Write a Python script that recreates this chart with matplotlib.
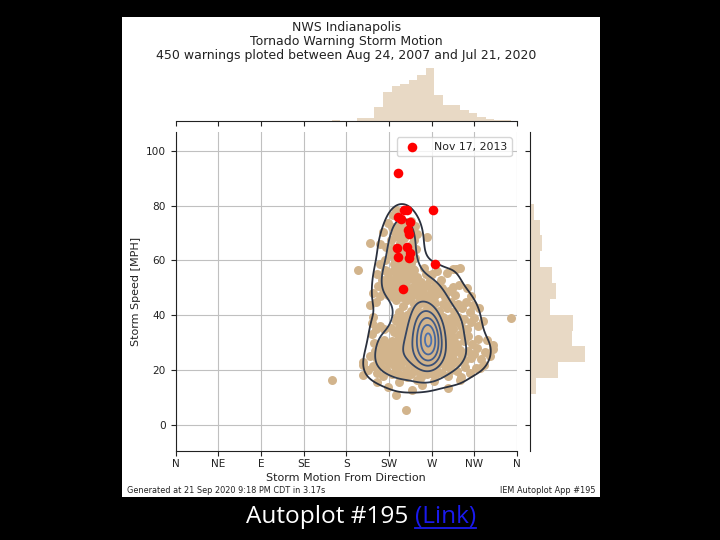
import numpy as np
import matplotlib
matplotlib.use("Agg")
import matplotlib.pyplot as plt
from matplotlib.patches import Rectangle
from matplotlib.lines import Line2D
import seaborn as sns

# ---------------- data ----------------
title_lines = ["NWS Indianapolis", "Tornado Warning Storm Motion",
               "450 warnings ploted between Aug 24, 2007 and Jul 21, 2020"]
dir_ticks = [0, 45, 90, 135, 180, 225, 270, 315, 360]
dir_labels = ["N", "NE", "E", "SE", "S", "SW", "W", "NW", "N"]
speed_ticks = [0, 20, 40, 60, 80, 100]

# tan points: storm motion direction (deg) and speed (mph), by speed band
tan_deg = (
    [232, 229]
    + [219, 228, 236, 240, 250, 252, 243, 238, 231, 255, 224, 248, 233]
    + [205, 265, 222, 227, 231, 237, 241, 249, 253, 251, 243, 235, 246, 226, 229, 239, 216]
    + [221, 227, 230, 240, 243, 252, 248, 238, 236, 231, 216]
    + [192, 212, 218, 221, 224, 227, 229, 232, 235, 237, 240, 243, 245, 248, 251, 253, 270, 280,
       276, 238, 242, 246, 233, 241, 228, 222, 255, 259, 264, 262, 268, 292, 296, 300, 250, 286]
    + [208, 213, 216, 219, 222, 224, 227, 229, 231, 233, 235, 237, 239, 242, 244, 246, 248, 250,
       252, 254, 257, 259, 261, 264, 266, 269, 272, 275, 278, 281, 284, 288, 292, 295, 299, 274,
       307, 311, 226, 241, 256]
    + [205, 211, 252, 257, 266, 232, 236, 240, 244, 248, 251, 255, 258, 262, 265, 268, 271, 274,
       278, 282, 286, 290, 294, 298, 302, 306, 314, 310, 320, 270, 253, 263]
    + [207, 208, 211, 258, 216, 262, 220, 264, 267, 227, 269, 271, 233, 235, 237, 239, 241, 243,
       245, 247, 249, 251, 253, 255, 256, 258, 259, 261, 262, 263, 264, 265, 266, 267, 268, 269,
       270, 270, 271, 272, 273, 275, 276, 278, 280, 282, 284, 286, 288, 290, 293, 295, 298, 301,
       304, 307, 311, 315, 319, 324, 354, 260, 266, 250, 244, 238, 232, 268, 266, 263]
    + [207, 209, 262, 215, 266, 220, 223, 269, 228, 230, 233, 235, 238, 240, 242, 244, 246, 248,
       250, 252, 254, 255, 257, 258, 259, 260, 261, 262, 263, 263, 264, 265, 265, 266, 266, 267,
       267, 268, 268, 268, 269, 269, 270, 270, 270, 271, 271, 272, 272, 273, 275, 276, 278, 280,
       283, 285, 288, 291, 294, 297, 300, 304, 308, 313, 319, 328, 335, 232]
    + [198, 205, 210, 212, 215, 217, 219, 221, 223, 225, 227, 229, 231, 233, 235, 237, 239, 240,
       242, 244, 245, 247, 249, 250, 252, 253, 255, 256, 258, 259, 260, 261, 262, 263, 264, 264,
       265, 265, 266, 266, 267, 267, 268, 268, 269, 269, 270, 270, 271, 271, 272, 272, 273, 274,
       275, 276, 278, 279, 281, 283, 285, 287, 289, 291, 293, 295, 298, 300, 302, 305, 308, 311,
       315, 318, 322, 326, 331, 335, 246, 236, 226, 257, 262, 254, 243, 274, 280, 231, 220]
    + [198, 198, 203, 208, 212, 216, 219, 222, 225, 228, 231, 234, 237, 240, 243, 246, 248, 251,
       254, 256, 259, 261, 263, 265, 267, 269, 271, 273, 275, 278, 281, 284, 287, 290, 293, 297,
       301, 305, 310, 317, 321, 325, 244, 257, 235]
    + [164.5, 212, 224, 236, 249, 255, 260, 272, 287, 300]
    + [232, 243]
)
tan_mph = (
    [78.4, 76.5]
    + [70.5, 72, 73, 71, 70, 72.5, 74, 69.5, 70, 69.5, 73.5, 74.5, 71.5]
    + [66.5, 68.4, 65, 67.5, 64, 66.5, 68, 66, 64, 67.5, 65, 68.5, 63.5, 63.8, 64.5, 64, 66]
    + [60, 62, 58.5, 60.5, 58, 61, 59, 62, 57.8, 60, 58.5]
    + [56.5, 55, 53, 56.5, 54, 52.5, 56, 54, 52.5, 56, 54, 52, 55.5, 53.5, 56.5, 52.5, 55, 53,
       56, 54, 52.5, 55, 53.5, 55, 52.5, 56, 54, 52, 55, 57.2, 53, 57, 57, 57.2, 56.8, 55.5]
    + [48, 50.5, 47, 49.5, 51, 47.5, 50, 46.5, 48.5, 51, 47, 49.5, 46.5, 51, 48, 50, 46.5, 49,
       51.5, 47.5, 50, 46.5, 48.5, 51, 47, 49.5, 46.5, 51, 48, 50, 46.5, 49, 50.4, 47.5, 51, 48.5,
       50, 47, 51.5, 47, 48.8]
    + [43.7, 45, 41.5, 44, 42, 45.5, 41, 43.5, 45.5, 41.5, 44, 42, 45.5, 41, 43.5, 45.5, 42, 44.5,
       41.5, 44, 42.5, 45, 41.5, 44, 42.5, 45, 43.7, 41, 42.5, 40.8, 40.6, 45.8]
    + [37, 39.5, 35, 38, 36, 39.5, 35, 37.5, 39.5, 35.5, 38, 36, 39.5, 34.8, 37.5, 39.5, 36, 38.5,
       35, 37, 39.5, 35.5, 38, 36.5, 39.5, 35, 37.5, 39.5, 36, 34.6, 38, 36.5, 39.5, 35.5, 37.5, 34.8,
       39, 36, 37.5, 35, 38.5, 36, 39.5, 35, 37.5, 39.5, 35.5, 38, 36, 39, 35, 37.5, 39.5, 36,
       38.5, 35, 37.5, 39, 36, 38, 38.9, 34.7, 34.6, 38.8, 40, 35.2, 37.8, 36.2, 34.8, 40]
    + [33, 30, 32, 29.5, 33.5, 31, 29, 32.5, 30.5, 33.8, 29.5, 31.5, 33.5, 30, 32, 29, 33.5, 31,
       29.5, 33, 30.5, 32.5, 29, 31.5, 33.8, 30, 32, 29, 31, 33.5, 30, 32.5, 29, 31.5, 33.8, 30,
       32, 29.5, 31, 33, 30.5, 32.5, 29, 31.5, 33.5, 30, 32, 29.5, 33, 31, 29.5, 32.5, 30, 33.5,
       29, 31.5, 33.5, 30, 32, 29.5, 33, 30.5, 32.5, 29.5, 31.5, 31, 29, 34]
    + [22.9, 25, 27, 24, 26.5, 23.5, 28, 25.5, 23.2, 27, 24.5, 28.2, 26, 23.5, 27.5, 25, 23, 28,
       26, 24, 27.5, 25.5, 23.3, 28.2, 26, 24, 27.5, 25, 23, 28, 26, 24, 27.5, 25.5, 23.5, 28,
       26.5, 24.5, 27.5, 23, 25.5, 28, 24, 26.5, 23, 27, 25, 28.2, 23.5, 26, 27.5, 24.5, 26, 23,
       27.5, 25, 28, 23.5, 26, 24, 27.5, 23.2, 25.5, 28, 24, 26.5, 23, 27.5, 25, 23.5, 27, 24.5,
       26, 28, 24, 26.5, 25, 27.6, 22.9, 24, 26, 26.8, 23, 28.5, 28.5, 28.5, 24.2, 24, 28.4]
    + [18.2, 22, 20, 21.5, 19, 22, 18, 20.5, 22.5, 18.5, 21, 19, 22, 17.8, 20, 22.5, 18.5, 21,
       19.5, 22.2, 17.5, 20.5, 22.5, 18.5, 21, 19, 22.5, 18, 20.5, 22.5, 19, 21.5, 18, 20, 22.5,
       19.5, 17.5, 21, 19, 20.8, 20.8, 22, 17.4, 21.8, 21.5]
    + [16.4, 15.5, 14, 15.5, 12.8, 16.5, 14.5, 16, 13.5, 16.4]
    + [10.9, 5.5]
)

# Nov 17, 2013 warnings (red)
red_deg = [234, 241, 244, 271.5, 235, 238, 247, 245.5, 246, 233, 235, 244.5, 247, 246.5, 273.5, 240]
red_mph = [92, 78.4, 78.4, 78.4, 75.7, 74.9, 73.9, 71.1, 69.6, 64.4, 61.4, 64.8, 62.8, 60.8, 58.7, 49.5]

# marginal histograms (counts per bin)
deg_edges = [164.5, 173.5, 182.5, 191.5, 200.6, 209.6, 218.6, 227.7, 236.7, 245.7, 254.7,
             263.8, 272.8, 281.8, 290.8, 299.8, 308.9, 317.9, 326.9, 335.9, 345.0, 354.0]
deg_counts = [1, 0, 0, 4, 4, 18, 38, 45, 48, 54, 60, 69, 34, 21, 21, 14, 10, 5, 2, 1, 1]
mph_edges = [5.5, 11.3, 17.1, 22.8, 28.6, 34.4, 40.2, 46.0, 51.7, 57.5, 63.3, 69.1, 74.8,
             80.6, 86.4, 92.2]
mph_counts = [2, 10, 45, 89, 68, 70, 32, 42, 36, 16, 19, 16, 7, 0, 1]

# ---------------- figure ----------------
W, H = 720, 540
fig = plt.figure(figsize=(7.2, 5.4), dpi=100, facecolor="black")
fig.add_artist(Rectangle((122 / W, 1 - 497 / H), 478 / W, 480 / H, transform=fig.transFigure,
                         facecolor="white", edgecolor="none", zorder=0))


def box(x0, y0, x1, y1):
    return [x0 / W, 1 - y1 / H, (x1 - x0) / W, (y1 - y0) / H]


ax = fig.add_axes(box(175.7, 132, 517, 451))
axx = fig.add_axes(box(175.7, 64, 517, 121))
axy = fig.add_axes(box(530, 132, 587, 451))

TXT = "#222222"
# scatter
ax.scatter(tan_deg, tan_mph, s=42, color="tan", linewidths=0, zorder=2)
ax.scatter(red_deg, red_mph, s=48, color="red", linewidths=0, zorder=5, label="Nov 17, 2013")

# KDE contours
all_deg = np.array(tan_deg + red_deg, dtype=float)
all_mph = np.array(tan_mph + red_mph, dtype=float)
n = len(all_deg)
bw = 0.9
hx = bw * all_deg.std(ddof=1) * n ** (-1 / 6)
hy = bw * all_mph.std(ddof=1) * n ** (-1 / 6)
gx = np.linspace(100, 420, 260)
gy = np.linspace(-30, 130, 260)
XX, YY = np.meshgrid(gx, gy)
Z = np.zeros_like(XX)
for dx, dy in zip(all_deg, all_mph):
    Z += np.exp(-0.5 * (((XX - dx) / hx) ** 2 + ((YY - dy) / hy) ** 2))
Z /= Z.max()
frac_levels = [0.1, 0.22, 0.46, 0.6, 0.73, 0.86, 0.97]
cols = sns.dark_palette("#4c72b0", len(frac_levels) + 1)[1:]
ax.contour(XX, YY, Z, levels=frac_levels, colors=cols, linewidths=1.3, zorder=3)

ax.set_xlim(0, 360)
ax.set_ylim(-9.5, 106.8)
ax.set_xticks(dir_ticks)
ax.set_xticklabels(dir_labels)
ax.set_yticks(speed_ticks)
ax.grid(True, color="#c0c0c0", linewidth=0.8)
ax.set_axisbelow(True)
for s in ["top", "right"]:
    ax.spines[s].set_visible(False)
for s in ["left", "bottom"]:
    ax.spines[s].set_color(TXT)
ax.tick_params(labelsize=7.6, colors=TXT, length=3.5, width=0.8)
ax.tick_params(axis="x", pad=2.5)
ax.set_xlabel("Storm Motion From Direction", fontsize=8, color=TXT, va="center")
ax.xaxis.set_label_coords(0.5, -(478 - 451) / 319)
ax.set_ylabel("Storm Speed [MPH]", fontsize=8, color=TXT, va="center")
ax.yaxis.set_label_coords((136 - 175.7) / 341.3, 0.5)

leg = ax.legend(loc="upper right", fontsize=7.8, frameon=True, borderaxespad=0.5,
                handletextpad=1.0)
leg.get_frame().set_edgecolor("#cccccc")
for t in leg.get_texts():
    t.set_color(TXT)

# marginal histograms
axx.bar(deg_edges[:-1], deg_counts, width=np.diff(deg_edges), align="edge",
        color="tan", alpha=0.5, linewidth=0)
axx.set_xlim(0, 360)
axx.set_ylim(0, 74.2)
axx.set_xticks(dir_ticks)
axx.set_xticklabels([])
axx.set_yticks([])
for s in ["top", "left", "right"]:
    axx.spines[s].set_visible(False)
axx.spines["bottom"].set_color(TXT)
axx.tick_params(colors=TXT, length=3.5, width=0.8)
axx.patch.set_alpha(0)

axy.barh(mph_edges[:-1], mph_counts, height=np.diff(mph_edges), align="edge",
         color="tan", alpha=0.5, linewidth=0)
axy.set_ylim(-9.5, 106.8)
axy.set_xlim(0, 92.2)
axy.set_yticks(speed_ticks)
axy.set_yticklabels([])
axy.set_xticks([])
for s in ["top", "bottom", "right"]:
    axy.spines[s].set_visible(False)
axy.spines["left"].set_color(TXT)
axy.tick_params(colors=TXT, length=3.5, width=0.8)
axy.patch.set_alpha(0)

# titles and footers
for line, yb in zip(title_lines, [31.5, 45.0, 58.5]):
    fig.text(346.4 / W, 1 - yb / H, line, ha="center", va="baseline", fontsize=9, color=TXT)
fig.text(127 / W, 1 - 493 / H, "Generated at 21 Sep 2020 9:18 PM CDT in 3.17s",
         ha="left", va="baseline", fontsize=5.9, color=TXT)
fig.text(595 / W, 1 - 493 / H, "IEM Autoplot App #195",
         ha="right", va="baseline", fontsize=5.9, color=TXT)

# caption under the image
cap_font = dict(fontsize=17.6, family=["Open Sans", "DejaVu Sans"])
yb = 1 - 523 / H
r = fig.canvas.get_renderer()
t_all = fig.text(0, yb, "Autoplot #195 (Link)", va="baseline", **cap_font)
w_all = t_all.get_window_extent(r).width
t_all.remove()
t_link = fig.text(0, yb, "(Link)", va="baseline", color="#1a1aee", **cap_font)
w_link = t_link.get_window_extent(r).width
x0 = 361 - w_all / 2
fig.text(x0 / W, yb, "Autoplot #195", va="baseline", color="white", **cap_font)
xl = x0 + w_all - w_link
t_link.set_x(xl / W)
fig.add_artist(Line2D([xl / W, (xl + w_link) / W], [1 - 527.5 / H] * 2, color="#1a1aee",
                      linewidth=1.3, transform=fig.transFigure))

fig.savefig("out.png", dpi=100, facecolor="black")
